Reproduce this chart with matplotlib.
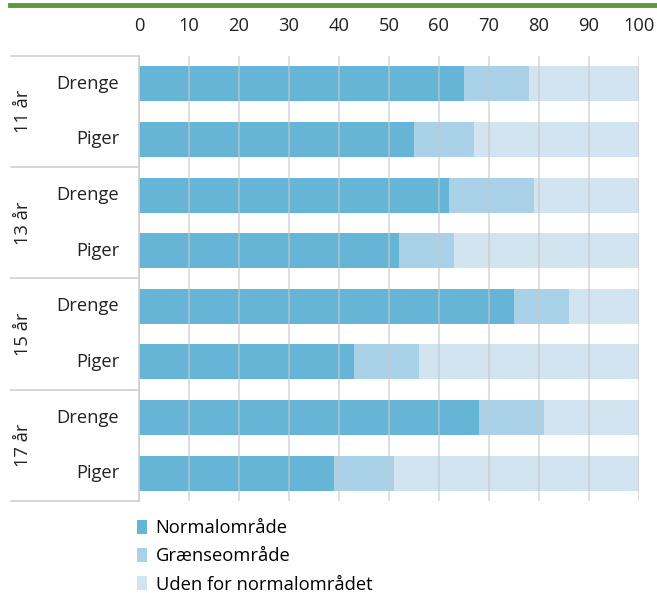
import numpy as np
import matplotlib
matplotlib.use("Agg")
import matplotlib.pyplot as plt
from matplotlib.patches import Patch
from matplotlib.lines import Line2D

plt.rcParams['font.family'] = ['Open Sans', 'DejaVu Sans']

groups = ['11 år', '13 år', '15 år', '17 år']
sexes = ['Drenge', 'Piger']
normal = [65, 55, 62, 52, 75, 43, 68, 39]
graense = [13, 12, 17, 11, 11, 13, 13, 12]
uden = [22, 33.3, 21, 37, 14, 44, 19, 49]
series_names = ['Normalområde', 'Grænseområde', 'Uden for normalområdet']
colors = ['#66b5d6', '#a9d1e7', '#d1e4ef']
xticks = [0, 10, 20, 30, 40, 50, 60, 70, 80, 90, 100]

W, H = 657, 593
FS = 13.2
fig = plt.figure(figsize=(W / 100, H / 100), dpi=100)
ax = fig.add_axes([139 / W, 1 - 501 / H, 500 / W, (501 - 56) / H])

y = np.arange(len(normal))
left = np.zeros(len(normal))
for vals, c in zip([normal, graense, uden], colors):
    ax.barh(y, vals, left=left, height=0.63, color=c, zorder=1)
    left += np.array(vals)

ax.set_xlim(0, 100)
ax.set_ylim(len(normal) - 0.5, -0.5)
ax.xaxis.tick_top()
ax.set_xticks(xticks)
ax.tick_params(axis='x', length=0, pad=15, labelsize=FS, colors='#222222')
ax.set_yticks([])
for x in xticks:
    ax.axvline(x, color='#c8c8c8', lw=1.1, zorder=3, alpha=0.75)
for s in ['top', 'right', 'bottom']:
    ax.spines[s].set_visible(False)
ax.spines['left'].set_color('#d0d0d0')
ax.spines['left'].set_linewidth(1.2)

# category labels on the left
trans = ax.get_yaxis_transform()
x0 = (11 - 139) / 500
for i, yy in enumerate(y):
    ax.text(-20 / 500, yy, sexes[i % 2], transform=trans, ha='right', va='center',
            fontsize=FS, color='#222222')
for g, name in enumerate(groups):
    ax.text((23 - 139) / 500, 2 * g + 0.5, name, transform=trans, rotation=90,
            ha='center', va='center', fontsize=FS, color='#222222')
for b in [-0.5, 1.5, 3.5, 5.5, 7.5]:
    ax.add_line(Line2D([x0, 0], [b, b], transform=trans, color='#d0d0d0',
                       lw=1.2, clip_on=False))

# green rule at the top
fig.add_artist(Line2D([10 / W, 1], [1 - 5 / H, 1 - 5 / H], color='#5a9a3c', lw=3.5))

handles = [Patch(facecolor=c, edgecolor='none') for c in colors]
fig.legend(handles, series_names, loc='upper left', bbox_to_anchor=(130 / W, 1 - 512 / H),
           frameon=False, fontsize=FS, handlelength=0.55, handleheight=0.75,
           handletextpad=0.45, labelspacing=0.55, borderaxespad=0)

fig.savefig('out.png', dpi=100)
